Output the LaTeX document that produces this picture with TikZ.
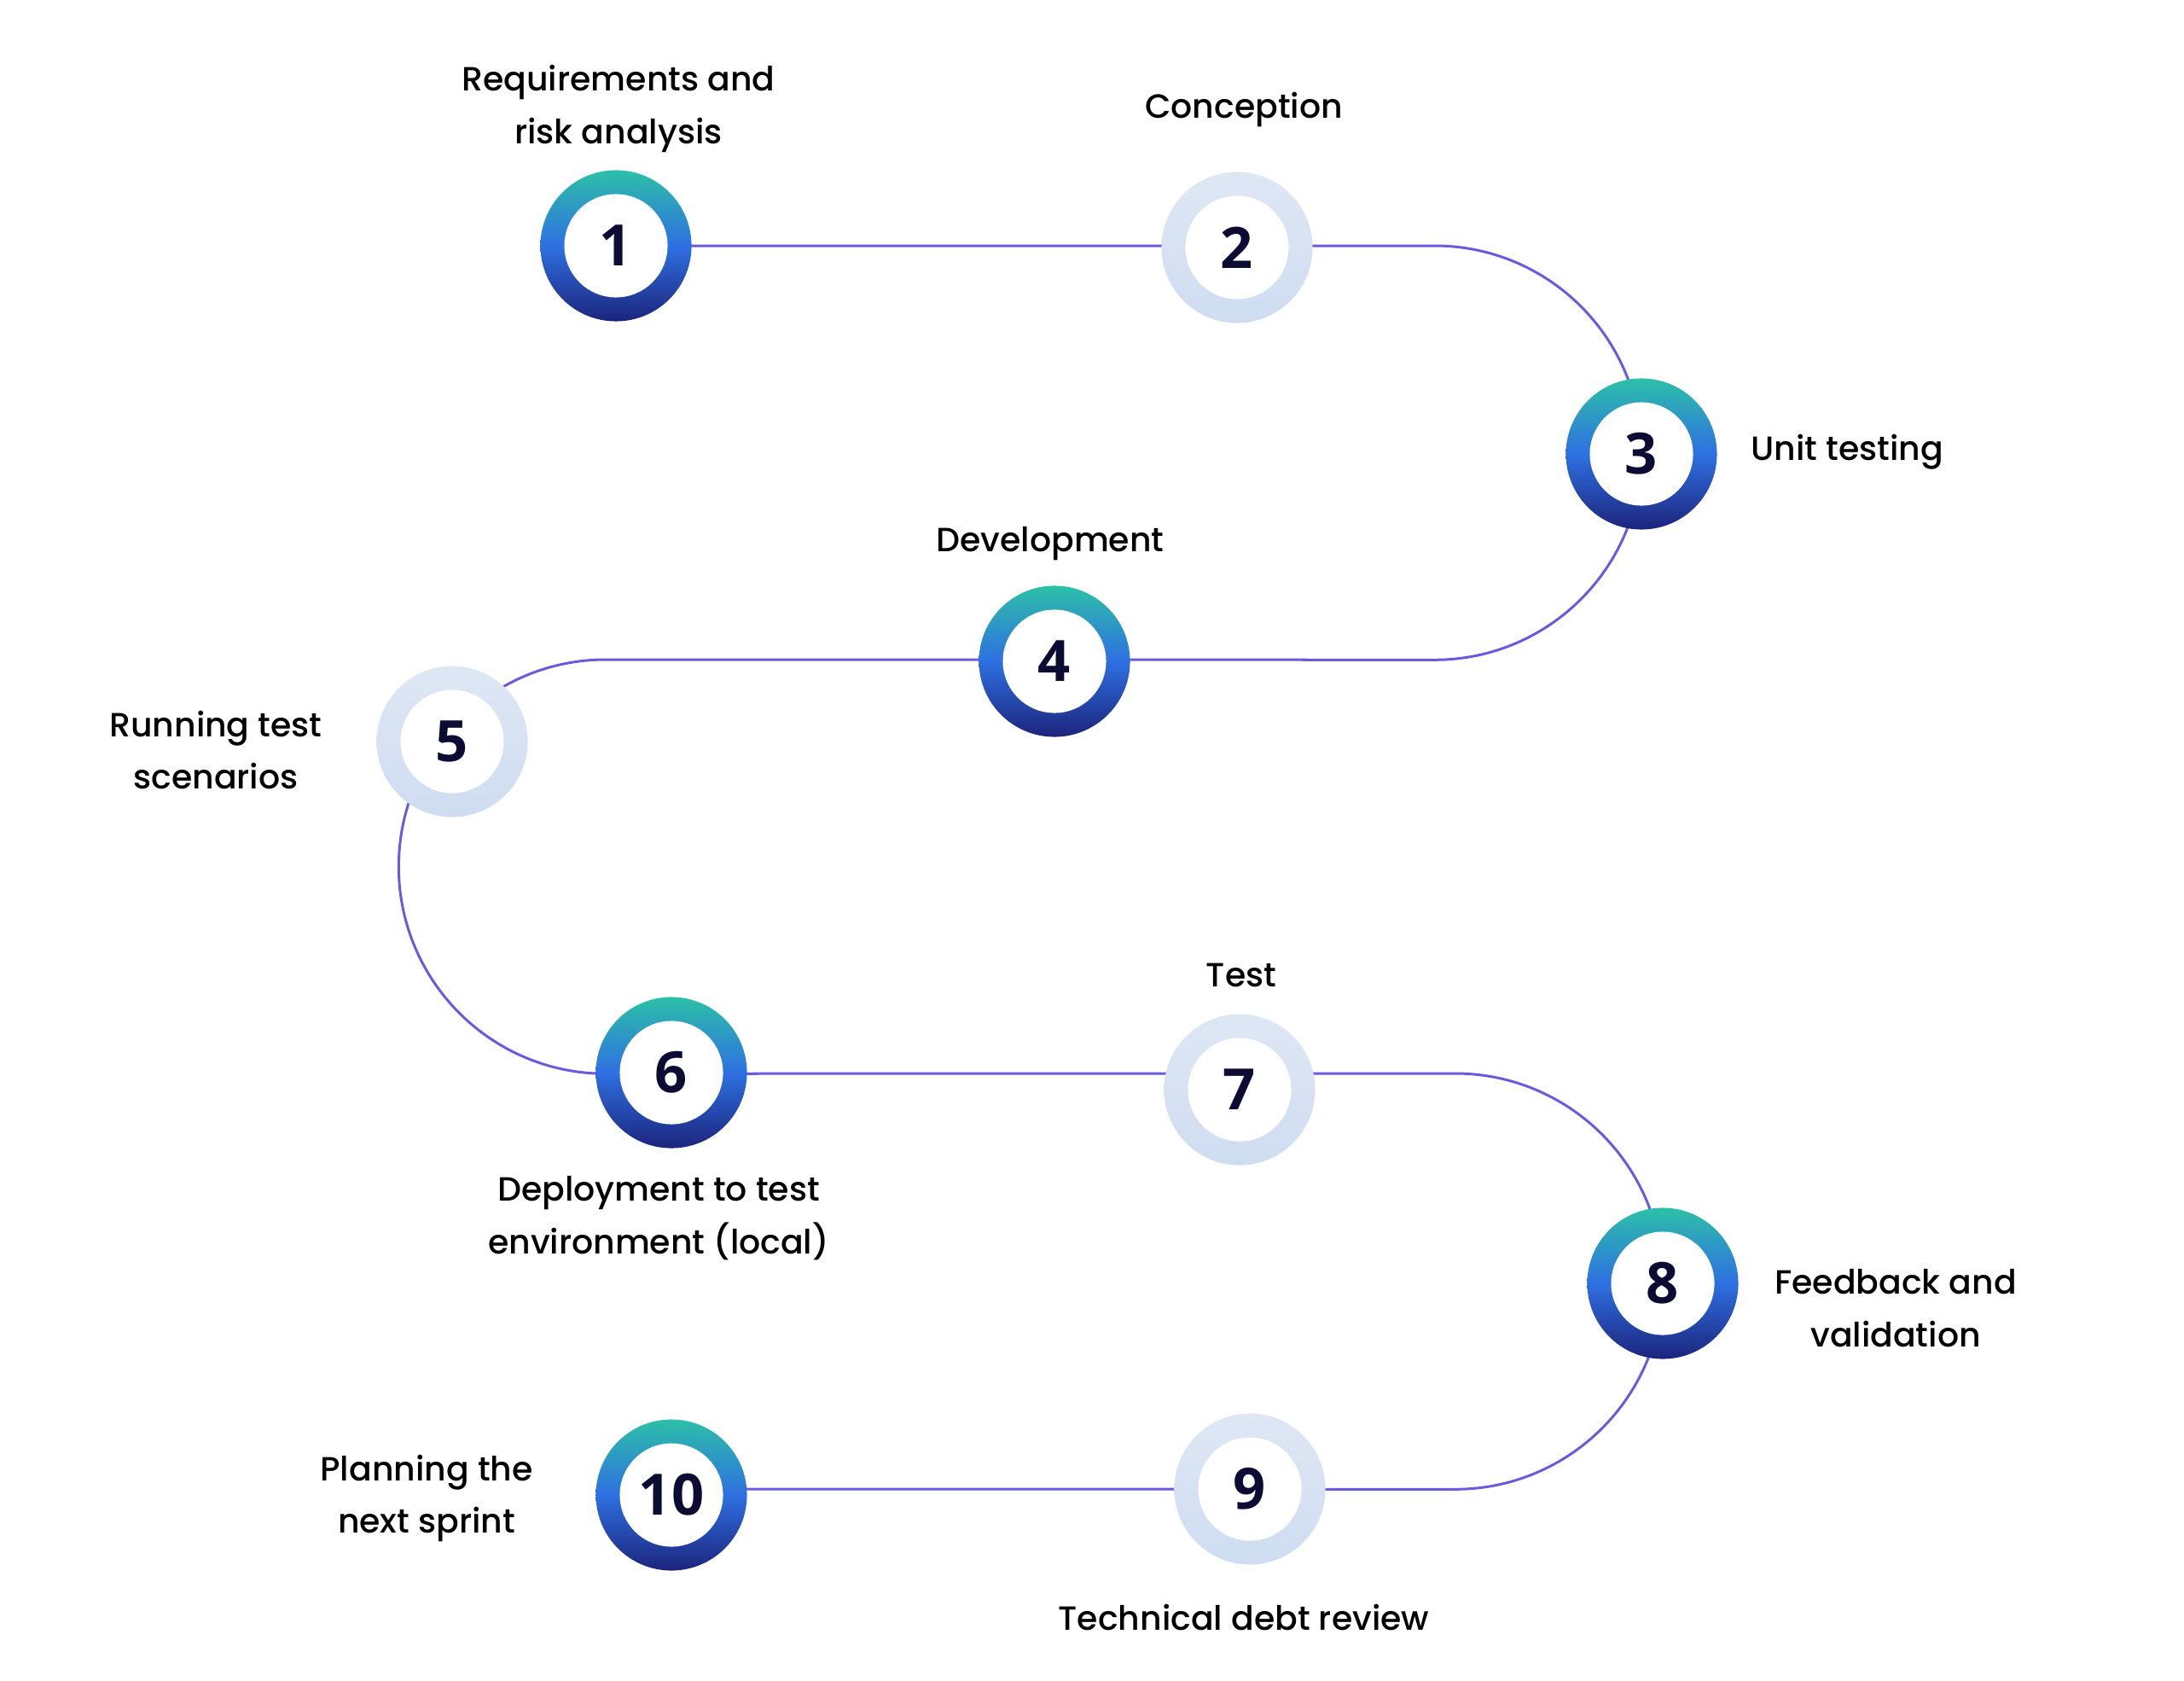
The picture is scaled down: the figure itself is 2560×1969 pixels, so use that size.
\documentclass[tikz,border=0pt]{standalone}
\usepackage{fontspec}
\newfontfamily\labelfont{Poppins Medium}
\newfontfamily\numfont{Open Sans}
\usepackage{xcolor}
\definecolor{ringtop}{RGB}{44,192,167}
\definecolor{ringmid}{RGB}{46,112,226}
\definecolor{ringbot}{RGB}{28,36,124}
\definecolor{paletop}{RGB}{222,231,244}
\definecolor{palebot}{RGB}{207,221,241}
\definecolor{trackcol}{RGB}{106,90,224}
\definecolor{numtext}{RGB}{11,11,51}
\usetikzlibrary{backgrounds}

\begin{document}
\begin{tikzpicture}[x=0.01cm, y=-0.01cm,
    ring/.style={circle, minimum size=1.77cm, inner sep=0pt, text=numtext,
        font=\numfont\bfseries\fontsize{19}{19}\selectfont,
        path picture={\fill[white] (path picture bounding box.center) circle[radius=0.605cm];}},
    ringdark/.style={ring, top color=ringtop, bottom color=ringbot, middle color=ringmid},
    ringpale/.style={ring, top color=paletop, bottom color=palebot},
    steplabel/.style={font=\labelfont\fontsize{11.2}{17.6}\selectfont, align=center, inner sep=0pt},
    track/.style={draw=trackcol, line width=0.03cm}]
    % Canvas (pixel units, y pointing down)
    \useasboundingbox (0,0) rectangle (2560,1969);

    % The ten steps
    \foreach \i/\x/\y/\s in {1/722/288/ringdark, 2/1450/290/ringpale, 3/1924/532/ringdark,
                             4/1236/775/ringdark, 5/530/869/ringpale, 6/787/1257/ringdark,
                             7/1453/1277/ringpale, 8/1949/1504/ringdark, 9/1465/1745/ringpale,
                             10/787/1752/ringdark}
        \node[\s] (n\i) at (\x,\y) {\i};

    % Bend points of the track
    \coordinate (b23) at (1681.5,288);
    \coordinate (b45) at (710,773);
    \coordinate (b78) at (1705.5,1258);
    \coordinate (b910) at (1705.5,1745);

    % Serpentine track behind the steps
    \begin{pgfonlayer}{background}
        \draw[track] (n1.center) -- (b23)
            arc[start angle=90, end angle=-90, radius=2.425cm] -- (b45)
            arc[start angle=90, end angle=270, radius=2.425cm] -- (b78)
            arc[start angle=90, end angle=-90, radius=2.435cm] -- (n10.center |- b910);
    \end{pgfonlayer}

    % Labels
    \node[steplabel] (l1) at (725,127) {Requirements and\\risk analysis};
    \node[steplabel] (l2) at (1458,128) {Conception};
    \node[steplabel, anchor=west] (l3) at (2052,530) {Unit testing};
    \node[steplabel] (l4) at (1231,637) {Development};
    \node[steplabel] (l5) at (253,879) {Running test\\scenarios};
    \node[steplabel] (l6) at (772,1428) {Deployment to test\\environment (local)};
    \node[steplabel] (l7) at (1455,1143) {Test};
    \node[steplabel] (l8) at (2222,1533) {Feedback and\\validation};
    \node[steplabel] (l9) at (1458,1895) {Technical debt review};
    \node[steplabel] (l10) at (500,1756) {Planning the\\next sprint};
\end{tikzpicture}
\end{document}
